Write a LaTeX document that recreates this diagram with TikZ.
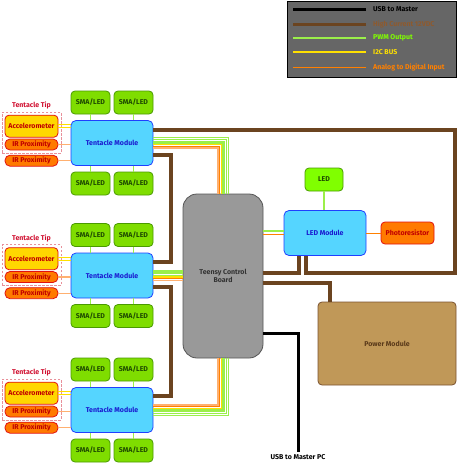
\documentclass[tikz,border=0pt]{standalone}
\usepackage{fontspec}
\setmainfont{Fira Sans}
\usetikzlibrary{positioning, calc, fit}

\definecolor{modfill}{HTML}{55D5FF}
\definecolor{modline}{HTML}{1F3FFF}
\definecolor{modtext}{HTML}{1A1AD0}
\definecolor{smafill}{HTML}{7FDD00}
\definecolor{smaline}{HTML}{4A9A00}
\definecolor{smatext}{HTML}{1E4A00}
\definecolor{ledfill}{HTML}{80FF00}
\definecolor{accfill}{HTML}{FFD700}
\definecolor{sensline}{HTML}{E01010}
\definecolor{senstext}{HTML}{C00000}
\definecolor{irfill}{HTML}{FF7A00}
\definecolor{teensyfill}{HTML}{999999}
\definecolor{teensyline}{HTML}{555555}
\definecolor{pwrfill}{HTML}{C09858}
\definecolor{pwrline}{HTML}{7A5230}
\definecolor{pwrtext}{HTML}{5A3A1A}
\definecolor{hcbrown}{HTML}{6B4420}
\definecolor{hclegend}{HTML}{8E5A2E}
\definecolor{pwmgreen}{HTML}{9BEF4A}
\definecolor{pwmtext}{HTML}{80FF00}
\definecolor{i2cyellow}{HTML}{FFE000}
\definecolor{adcorange}{HTML}{FF8000}
\definecolor{adclite}{HTML}{FFB070}
\definecolor{legendbg}{HTML}{666666}
\definecolor{tipred}{HTML}{E8909A}
\definecolor{tiptext}{HTML}{D01030}

\begin{document}
\begin{tikzpicture}[x=1pt, y=-1pt,
    box/.style={draw, rounded corners=4pt, inner sep=0pt, line width=0.8pt,
      font=\fontsize{7}{8}\selectfont\bfseries, align=center},
    tentacle/.style={box, fill=modfill, draw=modline, text=modtext,
      minimum width=82pt, minimum height=45pt, rounded corners=5pt},
    sma/.style={box, fill=smafill, draw=smaline, text=smatext,
      minimum width=39pt, minimum height=23pt},
    accel/.style={box, fill=accfill, draw=sensline, text=senstext,
      minimum width=53pt, minimum height=22pt},
    irprox/.style={box, fill=irfill, draw=sensline, text=senstext,
      minimum width=53pt, minimum height=11pt, rounded corners=5pt},
    tipbox/.style={draw=tipred, line width=0.7pt, dash pattern=on 2.5pt off 1.5pt,
      inner sep=2.5pt},
    tiplabel/.style={text=tiptext, inner sep=1pt, font=\fontsize{7}{8}\selectfont\bfseries},
    legtext/.style={anchor=west, inner sep=0pt, font=\fontsize{7}{8}\selectfont\bfseries},
    hcwire/.style={draw=hcbrown, line width=4pt},
    usbwire/.style={draw=black, line width=3pt},
    pwmwire/.style={draw=pwmgreen, line width=1.3pt},
    i2cwire/.style={draw=i2cyellow, line width=1.3pt},
    adcwire/.style={draw=adcorange, line width=1pt},
    adcsoft/.style={draw=adclite, line width=1.5pt}]
  \useasboundingbox (0,0) rectangle (459,463);

  % legend
  \node[draw=black, line width=1.5pt, fill=legendbg, minimum width=169pt,
    minimum height=76pt, inner sep=0pt] (legend) at (372,39.5) {};
  \node[legtext, text=black] (lgusb) at (373,9) {USB to Master};
  \node[legtext, text=hclegend] (lghc) at (373,24) {High Current 12VDC};
  \node[legtext, text=pwmtext] (lgpwm) at (373,38) {PWM Output};
  \node[legtext, text=i2cyellow] (lgi2c) at (373,52) {I2C BUS};
  \node[legtext, text=adcorange] (lgadc) at (373,67) {Analog to Digital Input};
  \draw[usbwire] ([xshift=-7pt]lgusb.west) -- ++(-73pt,0pt);
  \draw[hcwire, line width=3pt] ([xshift=-7pt]lghc.west) -- ++(-73pt,0pt);
  \draw[pwmwire, line width=1.5pt] ([xshift=-7pt]lgpwm.west) -- ++(-73pt,0pt);
  \draw[i2cwire, line width=2.5pt] ([xshift=-7pt]lgi2c.west) -- ++(-73pt,0pt);
  \draw[adcwire] ([xshift=-7pt]lgadc.west) -- ++(-73pt,0pt);

  % tentacle modules with their tips
  \foreach \n/\y in {1/143,2/275.5,3/410} {
      \node[tentacle] (tm\n) at (112,\y) {Tentacle Module};
      \node[sma] (sa\n) at (90.5,\y-40.5) {SMA/LED};
      \node[sma] (sb\n) at (133.5,\y-40.5) {SMA/LED};
      \node[sma] (sc\n) at (90.5,\y+40.5) {SMA/LED};
      \node[sma] (sd\n) at (133.5,\y+40.5) {SMA/LED};
      \node[accel] (ac\n) at (31.5,\y-16.8) {Accelerometer};
      \node[irprox] (ir\n) at (31.5,\y+1.5) {IR Proximity};
      \node[irprox] (io\n) at (31.5,\y+17.7) {IR Proximity};
      \node[tipbox, fit=(ac\n)(ir\n)] (tip\n) {};
      \node[tiplabel, above=1.5pt of tip\n] (tl\n) {Tentacle Tip};
      \draw[pwmwire, line width=0.8pt] (sa\n.south) -- (sa\n.south |- tm\n.north);
      \draw[pwmwire, line width=0.8pt] (sb\n.south) -- (sb\n.south |- tm\n.north);
      \draw[pwmwire, line width=0.8pt] (sc\n.north) -- (sc\n.north |- tm\n.south);
      \draw[pwmwire, line width=0.8pt] (sd\n.north) -- (sd\n.north |- tm\n.south);
      \draw[i2cwire, line width=0.9pt] ($(ac\n.east)+(0pt,1.3pt)$) -- ($(ac\n.east -| tm\n.west)+(0pt,1.3pt)$);
      \draw[i2cwire, line width=0.9pt] ($(ac\n.east)+(0pt,-1.3pt)$) -- ($(ac\n.east -| tm\n.west)+(0pt,-1.3pt)$);
      \draw[adcsoft, line width=1.2pt] (ir\n.east) -- (ir\n.east -| tm\n.west);
      \draw[adcsoft, line width=1.2pt] (io\n.east) -- (io\n.east -| tm\n.west);
    }

  % control board, led module, power
  \node[box, fill=teensyfill, draw=teensyline, text=black!80, rounded corners=14pt,
    minimum width=80pt, minimum height=164pt] (teensy) at (223,276) {Teensy Control\\Board};
  \node[tentacle] (ledm) at (325,233) {LED Module};
  \node[box, fill=ledfill, draw=smaline, text=smatext, minimum width=38pt,
    minimum height=23pt] (led) at (324,179.5) {LED};
  \node[accel, fill=irfill] (photo) at (407.5,233) {Photoresistor};
  \node[box, fill=pwrfill, draw=pwrline, text=pwrtext, minimum width=138pt,
    minimum height=83pt] (pwr) at (387,343.5) {Power Module};
  \node[inner sep=2pt, font=\fontsize{7}{8}\selectfont\bfseries] (usbpc) at (298,457) {USB to Master PC};

  % signal bundles
  \foreach \k/\c in {0/adcsoft,1/adcwire,2/i2cwire,3/pwmwire,4/pwmwire,5/pwmwire,6/pwmwire} {
      \pgfmathsetmacro\o{-5+1.7*\k}
      \pgfmathsetmacro\p{5-1.7*\k}
      \draw[\c] ([yshift=\o pt]tm1.east) -| ([xshift=\o pt]teensy.north);
      \draw[\c] ([yshift=\o pt]tm2.east) -- ($(tm2.east -| teensy.west)+(0pt,\o pt)$);
      \draw[\c] ([yshift=\p pt]tm3.east) -| ([xshift=\o pt]teensy.south);
    }
  \draw[pwmwire] ([yshift=2pt]ledm.west) -- ($(ledm.west -| teensy.east)+(0pt,2pt)$);
  \draw[adcwire] ([yshift=-1pt]ledm.west) -- ($(ledm.west -| teensy.east)+(0pt,-1pt)$);
  \draw[pwmwire] (led.south) -- (led.south |- ledm.north);
  \draw[adcwire] (ledm.east) -- (photo.west);

  % high current and usb
  \coordinate (hcNE) at (455,273);
  \coordinate (hcA) at (171,262);
  \coordinate (hcB) at (171,396);
  \draw[hcwire] ([yshift=13pt]tm1.east) -| (hcNE) -| ([xshift=-19pt]ledm.south);
  \draw[hcwire] ([yshift=-12pt]tm1.east) -| (hcA) -- ([yshift=13.5pt]tm2.east);
  \draw[hcwire] ([yshift=-11.5pt]tm2.east) -| (hcB) -- ([yshift=14pt]tm3.east);
  \draw[hcwire] ([yshift=3pt]teensy.east) -| ([xshift=-26pt]ledm.south);
  \draw[hcwire] ([yshift=-7pt]teensy.east) -| ([xshift=-57pt]pwr.north);
  \draw[usbwire] ([yshift=-57pt]teensy.east) -| (usbpc.north);
\end{tikzpicture}
\end{document}
